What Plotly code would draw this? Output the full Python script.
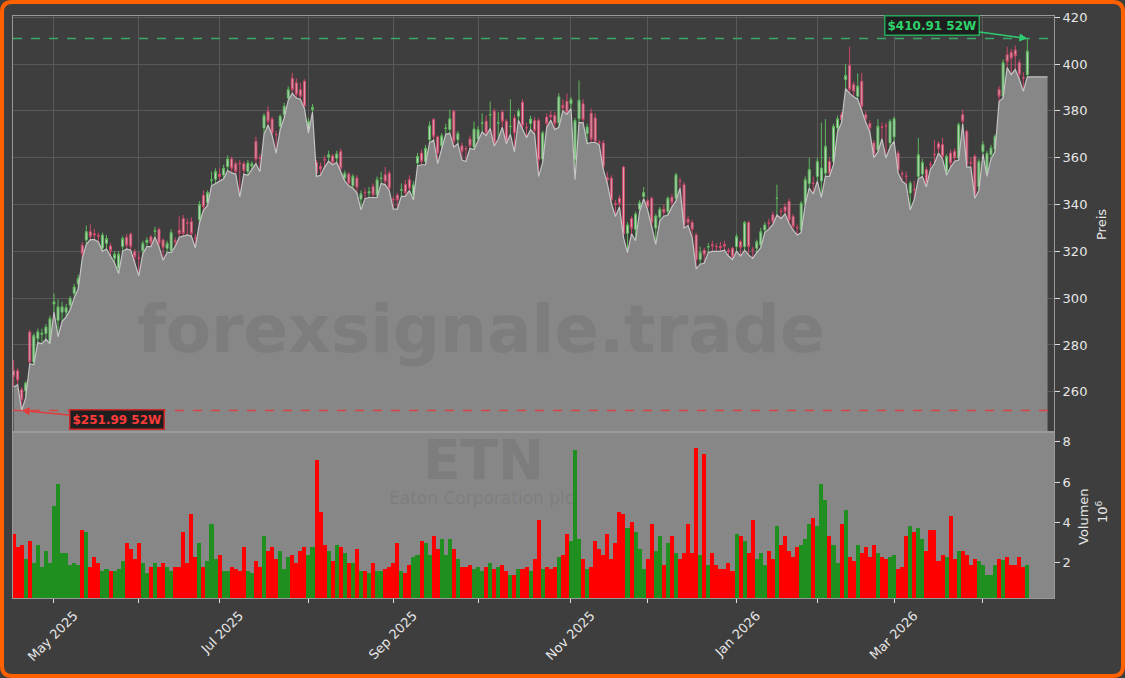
import pandas as pd
import plotly.graph_objects as go
from plotly.subplots import make_subplots

# ---------------- data ----------------
market_holidays = ["2025-04-18", "2025-05-26", "2025-06-19", "2025-07-04", "2025-09-01",
                   "2025-11-27", "2025-12-25", "2026-01-01", "2026-01-19", "2026-02-16",
                   "2026-04-03"]
first_day = "2025-04-16"
last_day = "2026-04-17"

opens = [
    269, 269, 261, 260.5, 285.5, 272.7, 282.7, 284.5, 284.9, 281.3,
    297.5, 290.5, 294, 294, 297, 302, 306, 322.6, 324.8, 328.4,
    327.5, 326.8, 321.3, 323.4, 322.3, 317, 312.7, 322, 326, 327.4,
    319.8, 317.2, 320.3, 323.7, 326.2, 328.5, 329.4, 324.8, 321.3, 320.3,
    324.5, 329, 334, 332.2, 332.7, 325.8, 333.5, 344, 340.8, 350.3,
    350.8, 353, 352.6, 356.2, 359.5, 357.4, 357.6, 357.4, 354.1, 356.4,
    367, 360, 372.7, 379.8, 376.5, 370, 373.4, 378.4, 385.5, 394,
    392, 389, 392.7, 371.3, 380.6, 358, 356.3, 359.2, 360.3, 360.8,
    359.8, 362.7, 351.3, 353, 348, 351.3, 342.3, 345.2, 344.9, 347.7,
    344.1, 351.1, 352.7, 353.4, 342.2, 344, 346.1, 348.6, 350.6, 344.1,
    357.7, 362, 358.4, 367.7, 376.3, 368.9, 365.1, 372.5, 372, 379.9,
    367.7, 365.1, 363.9, 368, 364.6, 368, 374.7, 375.6, 378.2, 379.9,
    374.8, 379.5, 375.6, 373.3, 377, 377.7, 383.7, 372.8, 374.6, 375.9,
    375.9, 359.4, 377.4, 378.2, 378, 374.9, 382.4, 384.1, 383.1, 359.1,
    376.6, 383.1, 370.3, 379, 377, 366.6, 366.3, 351.5, 351.3, 340.4,
    342.7, 356, 327.7, 334, 329.4, 338, 343.4, 341.6, 342.7, 329.9,
    334.6, 338, 337, 343.1, 342.7, 350.1, 348.4, 333.7, 332.3, 327,
    316.5, 320.5, 321.8, 322.8, 322.1, 322.2, 323, 320.5, 321.3, 322,
    324.1, 322, 332.3, 320.8, 321.3, 322.7, 329.1, 332.2, 335.6, 342.6,
    337.2, 339, 341.3, 334.9, 330.2, 329.1, 340.5, 349, 349.2, 352,
    350, 353.4, 358.4, 358.4, 372.7, 378.4, 393.4, 399.4, 391.3, 386.3,
    392.7, 378.4, 374.6, 366.3, 363.4, 373.2, 373.6, 366.3, 368.9, 362,
    353.2, 352.2, 344.9, 346.5, 352, 353, 354.9, 357.2, 361.5, 366,
    365.6, 354.1, 362, 362.7, 359.9, 378.4, 371.3, 357.9, 360.6, 347.7,
    362.7, 353.4, 361.3, 363.7, 389.1, 386.3, 404, 405, 406, 400.6,
    394.2, 395.5,
]
closes = [
    266.5, 265, 256.5, 263.7, 272.7, 284, 285.6, 285, 287.7, 291.3,
    298.4, 296.3, 296.3, 296, 299.8, 304.8, 308.4, 319, 328.4, 326.3,
    327, 326.5, 327, 325.5, 320.3, 318.8, 318.8, 325.5, 322.6, 322,
    317.7, 317, 323.4, 324.8, 323.7, 328.8, 323.4, 321.7, 323.4, 328,
    324.1, 327.6, 327.6, 332, 327.6, 325.5, 340, 339, 345.1, 350.5,
    354.1, 352, 355.5, 359.5, 355.5, 354.1, 357.4, 354.5, 357.7, 357.4,
    359.4, 359.8, 378, 375.5, 370.5, 369.8, 377.7, 382, 389.1, 389.1,
    387, 386.3, 382, 375.5, 381.5, 353.4, 355.2, 359, 361.3, 358,
    361.7, 355.5, 353.4, 349.1, 352, 347.4, 344.6, 345, 345.5, 344.1,
    350.6, 351.3, 349.9, 347, 342, 342, 346.3, 345, 347, 348.4,
    360.6, 358.4, 364.1, 373.7, 369.1, 362, 369.4, 372.7, 376.6, 367,
    370.3, 362.7, 363.7, 365.1, 372.3, 372, 374.9, 370.6, 378.4, 366.3,
    374.9, 375.6, 367, 373.4, 370.6, 379.9, 373.7, 372.7, 376.5, 371.6,
    359.1, 370.6, 374.6, 377.5, 374.6, 386, 381.3, 379.4, 384.9, 375.9,
    384.6, 376.3, 373.1, 368, 367, 366.3, 356.3, 350.5, 342, 340,
    340.5, 327.4, 331.3, 329.9, 336, 340.8, 345.1, 339.1, 332.3, 335.1,
    338, 336.6, 342.7, 340.8, 352.7, 349.9, 331.3, 332.3, 329.4, 316.3,
    319.5, 318.5, 322, 322.3, 322, 321.5, 322.2, 320, 317.7, 326.3,
    321.7, 332.3, 322, 320.6, 324.1, 328.4, 331.3, 332, 332.7, 342.7,
    337, 337, 333.4, 330.6, 330, 340.5, 350.6, 355, 349, 358.4,
    355.6, 364.9, 353.4, 373.4, 376.6, 376.3, 395.1, 389.1, 388.4, 390.6,
    382, 376.6, 372.7, 361.3, 373.4, 373, 373.4, 375.6, 376.6, 354.9,
    353, 352, 349.1, 346.3, 361.3, 358, 349.1, 357, 361.3, 364,
    360.6, 360.6, 357.7, 359.9, 374.1, 375.6, 357, 357.7, 344.1, 358.4,
    365.6, 361.9, 364.1, 369.1, 386.3, 400.6, 401, 402.5, 403.5, 395.6,
    394, 405.5,
]
highs = [
    273.5, 270, 262, 264.5, 286.5, 285, 287, 287, 289, 292.5,
    302, 299.5, 298.5, 297.5, 301, 306, 310, 324, 331, 331.5,
    329.5, 328, 328, 327, 323.5, 320, 320, 326.5, 327.5, 328,
    321, 319.5, 324.5, 326, 327, 330.5, 330, 325.5, 324.5, 329.5,
    326, 335, 335.5, 334, 334.5, 327.5, 341.5, 346, 346, 354,
    355.5, 355.5, 357, 361, 360.5, 358.5, 359, 358.5, 359, 358.5,
    369, 361.5, 379, 382, 377.5, 371.5, 378.5, 383.5, 390.5, 396.3,
    394, 392, 393.5, 377, 383, 359, 358, 361, 363, 361.5,
    363, 364, 354.5, 354, 353, 352.5, 346, 347, 347.5, 349,
    352, 354, 356, 354.5, 343.5, 345, 349, 350.5, 352.5, 350,
    362, 363.5, 365.5, 375.5, 377, 369.5, 370.5, 374.5, 380.5, 380.5,
    371.5, 366.5, 365, 369.5, 375.5, 373.5, 379, 378, 384, 381,
    379.5, 380.5, 376.5, 385, 378.5, 381, 385, 375, 378, 377.5,
    377, 371.5, 379, 380, 379.5, 387.5, 385, 387.5, 386, 377,
    393, 385, 374.5, 381, 379, 367.5, 367.5, 354, 352.5, 342,
    344, 356.6, 332.5, 335, 337, 342, 347.5, 342.5, 343.5, 336,
    339, 340, 343.5, 344.5, 353.5, 351.5, 349.5, 335, 333.5, 328,
    322, 321.5, 323.5, 324.5, 323.5, 324, 324.5, 321.5, 322, 327.5,
    325, 333, 333, 322, 325, 330, 332.5, 334, 337, 348.5,
    338.5, 340.5, 342.5, 336, 331.5, 341.5, 352, 360, 352, 360,
    375, 376.5, 360, 374.5, 378, 379.5, 399.9, 407.4, 392.5, 396,
    396.3, 380, 376, 367.5, 376.5, 375, 375, 376.5, 377.5, 363,
    354.5, 354, 350, 350, 368.5, 359.5, 356, 358.5, 367.5, 367,
    368.5, 361.5, 363.5, 364, 375, 380.6, 372, 360, 361.5, 359.5,
    367, 363, 365.5, 370, 390.5, 402, 407.4, 406.5, 408, 402,
    396.5, 410.91,
]
lows = [
    262, 263, 251.99, 257.5, 272, 271.5, 281, 280.5, 282.5, 280.5,
    294, 283.5, 290, 292, 295, 300, 304, 317, 323, 325,
    325, 324, 320, 321, 318, 315, 310.5, 320, 321, 320.5,
    315, 309.5, 319, 322, 322, 326, 322, 316.2, 319.5, 319.5,
    322, 326, 326.5, 327, 326.5, 321.5, 332, 337.5, 339.5, 348,
    349, 350, 351, 354.5, 353.5, 353, 343.3, 353, 352.5, 355,
    357.5, 354, 370, 374, 369.5, 362, 372, 377, 384.5, 387.5,
    385.5, 385, 381, 370.5, 379.5, 352, 352.5, 356, 358.5, 357,
    358, 354, 350, 348, 347, 345, 337.7, 342.5, 343, 343,
    343, 349, 348.5, 346, 338, 338, 343.5, 343.5, 346, 342,
    356.5, 357, 357, 366.5, 367.5, 357.5, 363.5, 370, 370.5, 364.5,
    366, 359, 358.4, 364, 363.5, 367, 371, 369.5, 372.5, 365,
    368, 373, 366, 370, 362.5, 376, 372, 368.5, 372, 370,
    352, 358, 373, 376, 372, 373, 380, 378.5, 381, 350.6,
    375, 375, 366, 366.5, 366.5, 365.5, 355, 349, 340.5, 334.9,
    339, 326, 319.4, 327.5, 324.5, 337, 342.5, 337.5, 330.5, 323,
    333, 335, 335.5, 339, 341.5, 347, 330, 331, 326, 312.5,
    314.5, 315, 319.5, 320, 320, 320, 320.5, 318, 316.5, 320,
    318, 320.5, 318.5, 317, 319.5, 321.5, 328, 329.5, 331.5, 335.5,
    334, 336, 332, 329, 327, 328, 340, 347, 344.5, 350,
    343, 352, 352, 357, 371, 375, 389.5, 387.5, 386, 385,
    380, 375, 371, 360, 362.5, 368, 359.9, 364.5, 367, 353.5,
    350, 348.5, 337.7, 342, 351, 352, 347.5, 355, 357.5, 362,
    359.5, 352.5, 356, 358.5, 359, 374.5, 356, 356, 342.7, 346,
    361.5, 352, 359.5, 362.5, 384, 385.5, 398.5, 395.5, 397.7, 393.5,
    388.4, 394.5,
]
volumes_m = [
    3.4, 2.8, 2.9, 2.2, 3.1, 2.0, 2.9, 1.8, 2.6, 2.0,
    4.8, 5.9, 2.5, 2.5, 1.9, 2.0, 1.9, 3.6, 3.5, 1.8,
    2.3, 2.0, 1.6, 1.7, 1.6, 1.6, 1.7, 2.1, 3.0, 2.7,
    2.2, 3.0, 2.0, 1.5, 1.8, 2.0, 1.8, 2.0, 1.8, 1.6,
    1.8, 1.8, 3.5, 2.0, 4.4, 2.3, 3.0, 1.8, 2.1, 3.9,
    2.2, 2.4, 1.6, 1.6, 1.8, 1.7, 1.6, 2.8, 1.6, 1.5,
    2.1, 1.8, 3.3, 2.6, 2.8, 2.2, 2.6, 1.7, 2.3, 2.4,
    2.0, 2.6, 2.8, 2.4, 2.8, 7.1, 4.5, 2.9, 2.6, 2.1,
    2.9, 2.8, 2.5, 2.0, 2.0, 2.7, 1.6, 1.6, 1.5, 2.0,
    1.6, 1.6, 1.7, 1.8, 2.0, 3.0, 1.6, 1.5, 1.9, 2.3,
    2.4, 3.1, 3.0, 2.4, 3.3, 2.7, 3.2, 2.4, 3.2, 2.7,
    2.2, 1.8, 1.8, 1.9, 1.7, 1.8, 1.6, 1.8, 2.0, 1.7,
    1.8, 1.9, 1.6, 1.4, 1.4, 1.7, 1.7, 1.8, 1.6, 2.2,
    4.1, 1.7, 1.8, 1.7, 1.8, 2.3, 2.4, 3.4, 3.1, 7.6,
    3.2, 2.2, 1.7, 1.8, 3.1, 2.7, 2.4, 3.4, 2.2, 3.0,
    4.5, 4.4, 3.7, 4.0, 3.5, 2.7, 1.7, 2.2, 3.9, 2.6,
    3.3, 1.9, 3.0, 3.3, 2.5, 2.2, 2.5, 3.9, 2.5, 7.7,
    2.4, 7.4, 1.9, 2.5, 1.9, 1.7, 1.7, 2.0, 1.6, 3.4,
    3.3, 3.1, 2.5, 4.1, 2.2, 2.5, 1.9, 2.6, 2.2, 3.8,
    2.9, 3.3, 2.6, 2.3, 2.8, 2.9, 3.2, 3.9, 4.2, 3.8,
    5.9, 5.1, 3.3, 2.9, 2.0, 3.9, 4.6, 2.3, 2.1, 2.9,
    2.5, 2.8, 2.3, 2.9, 2.5, 2.3, 2.2, 2.3, 2.4, 1.7,
    1.8, 3.3, 3.8, 3.5, 3.7, 3.2, 2.6, 3.6, 3.6, 2.1,
    2.4, 2.3, 4.3, 2.2, 2.6, 2.6, 2.4, 1.9, 2.2, 2.1,
    1.9, 1.4, 1.4, 1.9, 2.2, 2.15, 2.3, 1.87, 1.87, 2.3,
    1.8, 1.9,
]
area_tail_periods = 5
price_ticks = [260, 280, 300, 320, 340, 360, 380, 400, 420]
volume_ticks = [2, 4, 6, 8]
watermark = "forexsignale.trade"
ticker = "ETN"
company = "Eaton Corporation plc"
price_title = "Preis"
volume_title = "Volumen"

# ---------------- derived ----------------
dates = pd.bdate_range(first_day, last_day, freq="C", holidays=market_holidays)
n = min(len(dates), len(opens))
xs = list(range(n))
month_idx = [i for i in range(1, n) if dates[i].month != dates[i - 1].month]
major_idx = [i for i in month_idx if dates[i].month % 2 == 1]
major_txt = [dates[i].strftime("%b %Y") for i in major_idx]
minor_idx = [i for i in month_idx if dates[i].month % 2 == 0]

hi_val = max(highs)
hi_idx = highs.index(hi_val)
lo_val = min(lows)
lo_idx = lows.index(lo_val)

up_col = "#1f8f1f"
dn_col = "#ff0000"
vol_colors = [up_col if c >= o else dn_col for o, c in zip(opens, closes)]

# ---------------- figure ----------------
W, H = 1125, 678
ML, MR, MT, MB = 13, 71, 16, 80
PW, PH = W - ML - MR, H - MT - MB
split = (598 - 432) / PH

BG = "#3e3e3e"
GRID = "#595959"
FRAME = "#9a9a9a"
TXT = "#e6e6e6"
FONT = "DejaVu Sans"

fig = make_subplots(rows=2, cols=1, shared_xaxes=True, vertical_spacing=0,
                    row_heights=[1 - split, split])

fig.add_trace(go.Scatter(
    x=xs + [xs[-1] + area_tail_periods], y=lows[:n] + [lows[n - 1]],
    mode="lines", fill="tozeroy", fillcolor="#878787",
    line=dict(color="#c4c4c4", width=1.2), hoverinfo="skip", showlegend=False),
    row=1, col=1)

fig.add_trace(go.Candlestick(
    x=xs, open=opens, high=highs, low=lows, close=closes,
    increasing=dict(line=dict(color="#62c962", width=1), fillcolor="#d2ecd2"),
    decreasing=dict(line=dict(color="#e04a70", width=1), fillcolor="#f3b5c3"),
    whiskerwidth=0, opacity=0.88, showlegend=False), row=1, col=1)

fig.add_trace(go.Bar(
    x=xs, y=volumes_m, marker=dict(color=vol_colors, line=dict(width=0)),
    width=1.0, showlegend=False), row=2, col=1)


def px_x(p):
    return (p - ML) / PW


def px_y(p):
    return (H - MB - p) / PH


# outer orange rounded frame
x0, x1, y0, y1, r = 2, W - 2, 2, H - 2, 10
path = (f"M {px_x(x0 + r)},{px_y(y0)} L {px_x(x1 - r)},{px_y(y0)} "
        f"Q {px_x(x1)},{px_y(y0)} {px_x(x1)},{px_y(y0 + r)} "
        f"L {px_x(x1)},{px_y(y1 - r)} Q {px_x(x1)},{px_y(y1)} {px_x(x1 - r)},{px_y(y1)} "
        f"L {px_x(x0 + r)},{px_y(y1)} Q {px_x(x0)},{px_y(y1)} {px_x(x0)},{px_y(y1 - r)} "
        f"L {px_x(x0)},{px_y(y0 + r)} Q {px_x(x0)},{px_y(y0)} {px_x(x0 + r)},{px_y(y0)} Z")

shapes = [
    dict(type="rect", xref="x2 domain", yref="y2 domain", x0=0, x1=1, y0=0, y1=1,
         fillcolor="#878787", line=dict(width=0), layer="below"),
    dict(type="line", xref="x domain", yref="y", x0=0, x1=1, y0=hi_val, y1=hi_val,
         line=dict(color="#3aa868", width=1.5, dash="dash")),
    dict(type="line", xref="x domain", yref="y", x0=0, x1=1, y0=lo_val, y1=lo_val,
         line=dict(color="#d94545", width=1.5, dash="dash")),
    dict(type="path", xref="paper", yref="paper", path=path,
         line=dict(color="#ff6000", width=4), layer="above"),
]

wm_col = "rgba(60,60,60,0.13)"
centered = dict(xref="paper", yref="paper", xanchor="center", yanchor="middle", showarrow=False)
annotations = [
    dict(x=hi_idx, y=hi_val, xref="x", yref="y", text=f"<b>${hi_val:.2f} 52W</b>",
         showarrow=True, arrowhead=2, arrowsize=1, arrowwidth=1.6, arrowcolor="#2ecc71",
         ax=-95, ay=-13, font=dict(color="#2fd36b", size=12, family=FONT),
         bgcolor="#1e1e1e", bordercolor="#25a85a", borderwidth=1.5, borderpad=2),
    dict(x=lo_idx, y=lo_val, xref="x", yref="y", text=f"<b>${lo_val:.2f} 52W</b>",
         showarrow=True, arrowhead=2, arrowsize=1, arrowwidth=1.6, arrowcolor="#e33b3b",
         ax=95, ay=9, font=dict(color="#ff3b3b", size=12, family=FONT),
         bgcolor="#1e1e1e", bordercolor="#cc2a2a", borderwidth=1.5, borderpad=2),
    dict(x=px_x(481), y=px_y(329), text=f"<b>{watermark}</b>",
         font=dict(size=66, family=FONT, color=wm_col), **centered),
    dict(x=px_x(483), y=px_y(460), text=f"<b>{ticker}</b>",
         font=dict(size=55, family=FONT, color=wm_col), **centered),
    dict(x=px_x(481), y=px_y(498), text=company,
         font=dict(size=17, family=FONT, color=wm_col), **centered),
    dict(x=px_x(1102), y=px_y(225), text=price_title, textangle=-90,
         font=dict(size=13, family=FONT, color=TXT), **centered),
    dict(x=px_x(1083), y=px_y(517), text=volume_title, textangle=-90,
         font=dict(size=13, family=FONT, color=TXT), **centered),
    dict(x=px_x(1102), y=px_y(512), text="10<sup>6</sup>", textangle=-90,
         font=dict(size=13, family=FONT, color=TXT), **centered),
]

xr = [-0.15, n - 1 + 6.6]
axis_common = dict(showline=True, mirror=True, linecolor=FRAME, linewidth=1, zeroline=False)

fig.update_layout(
    width=W, height=H,
    margin=dict(l=ML, r=MR, t=MT, b=MB, autoexpand=False),
    paper_bgcolor=BG, plot_bgcolor=BG,
    font=dict(family=FONT, color=TXT, size=13),
    showlegend=False, bargap=0, hovermode=False,
    shapes=shapes, annotations=annotations,
    xaxis=dict(range=xr, tickvals=major_idx, showticklabels=False, ticks="",
               showgrid=True, gridcolor=GRID, gridwidth=1, rangeslider=dict(visible=False),
               minor=dict(tickvals=minor_idx, showgrid=True, gridcolor=GRID, gridwidth=1,
                          ticks=""),
               **axis_common),
    xaxis2=dict(range=xr, tickvals=major_idx, ticktext=major_txt, tickangle=-45,
                ticks="outside", ticklen=4, tickcolor="#dddddd", showgrid=False,
                minor=dict(tickvals=minor_idx, ticks="outside", ticklen=4,
                           tickcolor="#dddddd", showgrid=False),
                ticklabelshift=20, tickfont=dict(size=13, color=TXT, family=FONT),
                **axis_common),
    yaxis=dict(domain=[split, 1], range=[242.8, 420.55], side="right", tickvals=price_ticks,
               ticks="outside", ticklen=5, tickcolor="#dddddd", showgrid=True,
               gridcolor=GRID, tickfont=dict(size=13, color=TXT, family=FONT),
               **axis_common),
    yaxis2=dict(domain=[0, split], range=[0.25, 8.48], side="right", tickvals=volume_ticks,
                ticks="outside", ticklen=5, tickcolor="#dddddd", showgrid=False,
                tickfont=dict(size=13, color=TXT, family=FONT), **axis_common),
)

fig.write_html("out.html",
               config={"displayModeBar": False, "staticPlot": True},
               post_script="document.body.style.margin='0px';"
                           "document.body.style.background='#3e3e3e';")
